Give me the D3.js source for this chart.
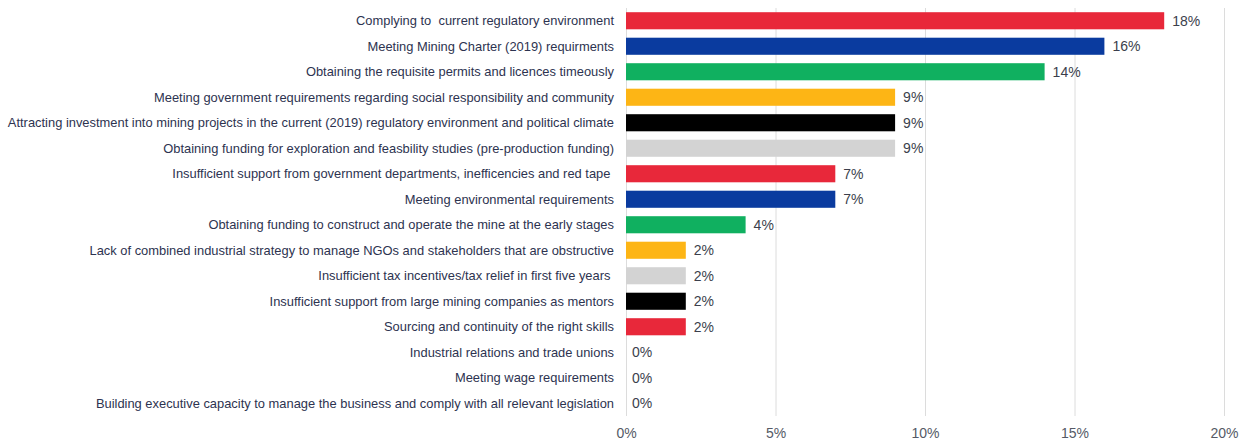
<!DOCTYPE html>
<html>
<head>
<meta charset="utf-8">
<script src="https://cdn.jsdelivr.net/npm/d3@7"></script>
<style>
  html, body { margin: 0; padding: 0; background: #fff; }
  svg { display: block; font-family: "Liberation Sans", Arial, sans-serif; }
  .cat { white-space: pre; }
</style>
</head>
<body>
<svg id="chart" width="1248" height="441"></svg>
<script>
// Challenges faced by junior miners, share of respondents (%)
const categories = [
  "Complying to  current regulatory environment",
  "Meeting Mining Charter (2019) requirments",
  "Obtaining the requisite permits and licences timeously",
  "Meeting government requirements regarding social responsibility and community",
  "Attracting investment into mining projects in the current (2019) regulatory environment and political climate",
  "Obtaining funding for exploration and feasbility studies (pre-production funding)",
  "Insufficient support from government departments, inefficencies and red tape ",
  "Meeting environmental requirements",
  "Obtaining funding to construct and operate the mine at the early stages",
  "Lack of combined industrial strategy to manage NGOs and stakeholders that are obstructive",
  "Insufficient tax incentives/tax relief in first five years ",
  "Insufficient support from large mining companies as mentors",
  "Sourcing and continuity of the right skills",
  "Industrial relations and trade unions",
  "Meeting wage requirements",
  "Building executive capacity to manage the business and comply with all relevant legislation"
];
const values = [18, 16, 14, 9, 9, 9, 7, 7, 4, 2, 2, 2, 2, 0, 0, 0];
const barColors = [
  "#e8283a", "#0a3b9f", "#10b060", "#fdb515", "#000000", "#d3d3d3",
  "#e8283a", "#0a3b9f", "#10b060", "#fdb515", "#d3d3d3", "#000000",
  "#e8283a", "#d3d3d3", "#d3d3d3", "#d3d3d3"
];
const tickValues = [0, 5, 10, 15, 20];

const svg = d3.select("#chart");
const margin = { top: 8, left: 626, right: 24, bottom: 25 };
const W = 1248, H = 441;

const x = d3.scaleLinear().domain([0, 20]).range([margin.left, W - margin.right]);
const y = d3.scaleBand().domain(categories).range([margin.top, H - margin.bottom]).paddingInner(0.33).paddingOuter(0.165);

// vertical gridlines
svg.append("g")
  .selectAll("line")
  .data(tickValues)
  .join("line")
  .attr("x1", d => x(d) + 0.5)
  .attr("x2", d => x(d) + 0.5)
  .attr("y1", margin.top)
  .attr("y2", H - margin.bottom)
  .attr("stroke", "#dcdcdc")
  .attr("stroke-width", 1);

// x-axis tick labels
const xAxis = d3.axisBottom(x).tickValues(tickValues).tickFormat(d => d + "%").tickSize(0).tickPadding(0);
const ax = svg.append("g").attr("transform", `translate(0,${H - margin.bottom + 12})`).call(xAxis);
ax.select(".domain").remove();
ax.selectAll("text")
  .attr("fill", "#555a66")
  .attr("font-size", 14)
  .attr("font-family", "Liberation Sans, Arial, sans-serif");

// bars
svg.append("g")
  .selectAll("rect")
  .data(values)
  .join("rect")
  .attr("x", x(0))
  .attr("y", (d, i) => y(categories[i]))
  .attr("width", d => x(d) - x(0))
  .attr("height", y.bandwidth())
  .attr("fill", (d, i) => barColors[i]);

// value labels
svg.append("g")
  .selectAll("text")
  .data(values)
  .join("text")
  .attr("x", d => x(d) + (d === 0 ? 6 : 8))
  .attr("y", (d, i) => y(categories[i]) + y.bandwidth() / 2)
  .attr("dy", "0.36em")
  .attr("font-size", 14)
  .attr("fill", "#3b3f4c")
  .text(d => d + "%");

// category labels
svg.append("g")
  .selectAll("text")
  .data(categories)
  .join("text")
  .attr("class", "cat")
  .attr("x", margin.left - 12)
  .attr("y", d => y(d) + y.bandwidth() / 2)
  .attr("dy", "0.36em")
  .attr("text-anchor", "end")
  .attr("font-size", 12.9)
  .attr("fill", "#2d3350")
  .text(d => d);
</script>
</body>
</html>
